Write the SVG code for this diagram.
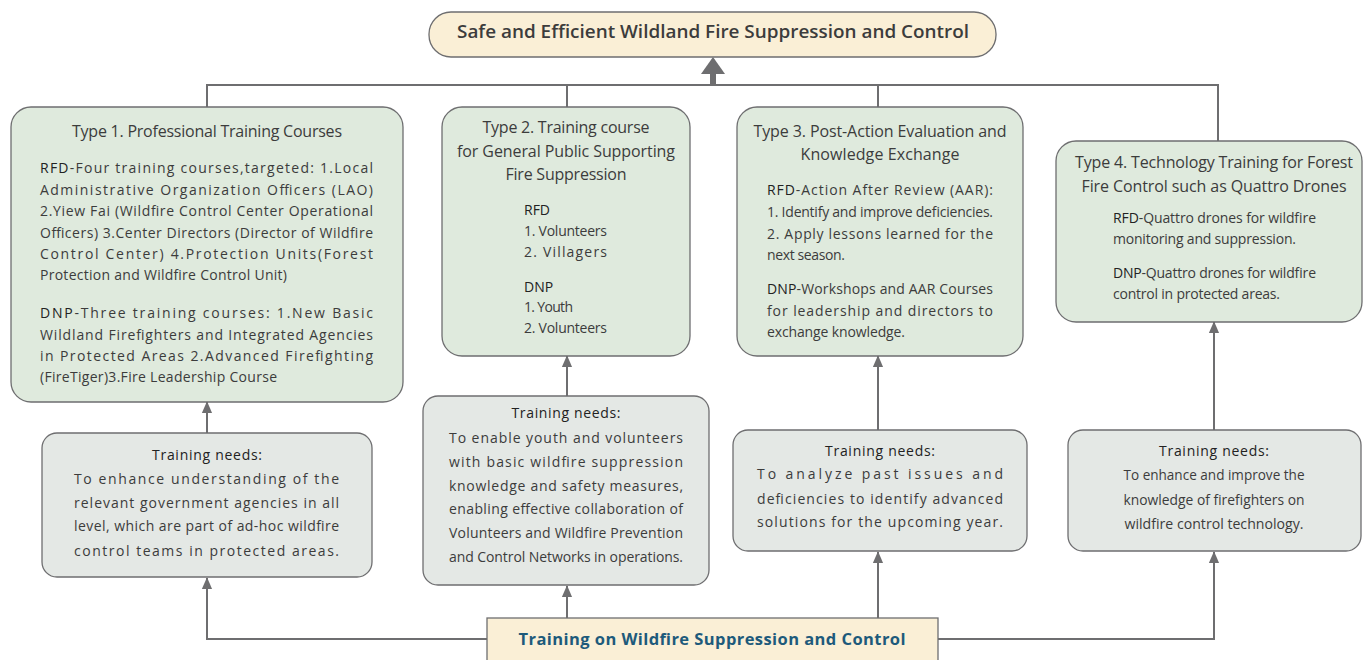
<svg xmlns="http://www.w3.org/2000/svg" width="1363" height="660" viewBox="0 0 1363 660">
<defs>
<style>
text{font-family:"Open Sans","Noto Sans",sans-serif;fill:#3c3c3c}
.ti{font-size:16px;text-anchor:middle}
.bd{font-size:14px}
.nd{font-size:14px;text-anchor:middle}
.k{fill:#222}
.gn{fill:#dfeadd;stroke:#6e6e70;stroke-width:1.3}
.gy{fill:#e4e8e5;stroke:#6e6e70;stroke-width:1.3}
.cr{fill:#faefd6;stroke:#6e6e70;stroke-width:1.3}
.ln{fill:none;stroke:#6e6e70;stroke-width:2}
</style>
<marker id="ah" markerUnits="userSpaceOnUse" markerWidth="12" markerHeight="14" refX="13" refY="6" orient="auto" viewBox="0 0 14 12">
<path d="M0,0 L14,6 L0,12 z" fill="#6e6e70"/>
</marker>
</defs>

<g id="connectors">
<path class="ln" d="M207,107 V85 H1218 V141"/>
<path class="ln" d="M567,85 V107"/>
<path class="ln" d="M878,85 V107"/>
<path d="M713,86 V72" stroke="#6e6e70" stroke-width="6" fill="none"/>
<path d="M701,74 L725,74 L713,57 z" fill="#6e6e70"/>
<path class="ln" d="M207,433 V402" marker-end="url(#ah)"/>
<path class="ln" d="M567,396 V356" marker-end="url(#ah)"/>
<path class="ln" d="M878,430 V356" marker-end="url(#ah)"/>
<path class="ln" d="M1214,430 V322" marker-end="url(#ah)"/>
<path class="ln" d="M487,639 H207 V578" marker-end="url(#ah)"/>
<path class="ln" d="M567,618 V586" marker-end="url(#ah)"/>
<path class="ln" d="M878,618 V552" marker-end="url(#ah)"/>
<path class="ln" d="M938,639 H1214 V552" marker-end="url(#ah)"/>
</g>

<g id="goal">
<rect class="cr" x="429" y="12" width="567" height="45" rx="22"/>
<text x="713" y="38" font-size="18" font-weight="600" text-anchor="middle" textLength="512" lengthAdjust="spacingAndGlyphs">Safe and Efficient Wildland Fire Suppression and Control</text>
</g>

<g id="type1">
<rect class="gn" x="11" y="107" width="392" height="295" rx="20"/>
<text class="ti" x="207" y="137" textLength="270">Type 1. Professional Training Courses</text>
<text class="bd" x="40" y="173" textLength="333"><tspan class="k">RFD</tspan>-Four training courses,targeted: 1.Local</text>
<text class="bd" x="40" y="195" textLength="333">Administrative Organization Officers (LAO)</text>
<text class="bd" x="40" y="216" textLength="333">2.Yiew Fai (Wildfire Control Center Operational</text>
<text class="bd" x="40" y="238" textLength="333">Officers) 3.Center Directors (Director of Wildfire</text>
<text class="bd" x="40" y="259" textLength="333">Control Center) 4.Protection Units(Forest</text>
<text class="bd" x="40" y="280" textLength="247">Protection and Wildfire Control Unit)</text>
<text class="bd" x="40" y="318" textLength="333"><tspan class="k">DNP</tspan>-Three training courses: 1.New Basic</text>
<text class="bd" x="40" y="340" textLength="333">Wildland Firefighters and Integrated Agencies</text>
<text class="bd" x="40" y="361" textLength="333">in Protected Areas 2.Advanced Firefighting</text>
<text class="bd" x="40" y="382" textLength="237">(FireTiger)3.Fire Leadership Course</text>
</g>

<g id="type2">
<rect class="gn" x="442" y="107" width="248" height="249" rx="20"/>
<text class="ti" x="566" y="133" textLength="167">Type 2. Training course</text>
<text class="ti" x="566" y="157" textLength="218">for General Public Supporting</text>
<text class="ti" x="566" y="180" textLength="121">Fire Suppression</text>
<text class="bd k" x="524" y="215">RFD</text>
<text class="bd" x="524" y="236" textLength="83">1. Volunteers</text>
<text class="bd" x="524" y="257" textLength="83">2.  Villagers</text>
<text class="bd k" x="524" y="292">DNP</text>
<text class="bd" x="524" y="312" textLength="49">1. Youth</text>
<text class="bd" x="524" y="333" textLength="83">2. Volunteers</text>
</g>

<g id="type3">
<rect class="gn" x="737" y="107" width="286" height="249" rx="20"/>
<text class="ti" x="880" y="137" textLength="253">Type 3. Post-Action Evaluation and</text>
<text class="ti" x="880" y="160" textLength="159">Knowledge Exchange</text>
<text class="bd" x="767" y="195" textLength="226"><tspan class="k">RFD</tspan>-Action After Review (AAR):</text>
<text class="bd" x="767" y="217" textLength="226">1. Identify and improve deficiencies.</text>
<text class="bd" x="767" y="239" textLength="226">2. Apply lessons learned for the</text>
<text class="bd" x="767" y="260" textLength="78">next season.</text>
<text class="bd" x="767" y="294" textLength="226"><tspan class="k">DNP</tspan>-Workshops and AAR Courses</text>
<text class="bd" x="767" y="316" textLength="226">for leadership and directors to</text>
<text class="bd" x="767" y="337" textLength="138">exchange knowledge.</text>
</g>

<g id="type4">
<rect class="gn" x="1056" y="141" width="306" height="181" rx="20"/>
<text class="ti" x="1214" y="168" textLength="278">Type 4. Technology Training for Forest</text>
<text class="ti" x="1214" y="192" textLength="265">Fire Control such as Quattro Drones</text>
<text class="bd" x="1113" y="223" textLength="203"><tspan class="k">RFD</tspan>-Quattro drones for wildfire</text>
<text class="bd" x="1113" y="244" textLength="183">monitoring and suppression.</text>
<text class="bd" x="1113" y="278" textLength="203"><tspan class="k">DNP</tspan>-Quattro drones for wildfire</text>
<text class="bd" x="1113" y="299" textLength="167">control in protected areas.</text>
</g>

<g id="needs1">
<rect class="gy" x="42" y="433" width="330" height="144" rx="15"/>
<text class="nd k" x="207" y="460" textLength="110">Training needs:</text>
<text class="bd" x="74" y="484" textLength="265">To enhance understanding of the</text>
<text class="bd" x="74" y="508" textLength="265">relevant government agencies in all</text>
<text class="bd" x="74" y="531" textLength="265">level, which are part of ad-hoc wildfire</text>
<text class="bd" x="74" y="556" textLength="265">control teams in protected areas.</text>
</g>

<g id="needs2">
<rect class="gy" x="423" y="396" width="286" height="189" rx="15"/>
<text class="nd k" x="566" y="418" textLength="109">Training needs:</text>
<text class="bd" x="449" y="443" textLength="234">To enable youth and volunteers</text>
<text class="bd" x="449" y="467" textLength="234">with basic wildfire suppression</text>
<text class="bd" x="449" y="491" textLength="234">knowledge and safety measures,</text>
<text class="bd" x="449" y="514" textLength="234">enabling effective collaboration of</text>
<text class="bd" x="449" y="538" textLength="234">Volunteers and Wildfire Prevention</text>
<text class="bd" x="449" y="562" textLength="234">and Control Networks in operations.</text>
</g>

<g id="needs3">
<rect class="gy" x="733" y="430" width="294" height="121" rx="15"/>
<text class="nd k" x="880" y="456" textLength="110">Training needs:</text>
<text class="bd" x="757" y="479" textLength="246">To analyze past issues and</text>
<text class="bd" x="757" y="504" textLength="246">deficiencies to identify advanced</text>
<text class="bd" x="757" y="527" textLength="246">solutions for the upcoming year.</text>
</g>

<g id="needs4">
<rect class="gy" x="1068" y="430" width="293" height="121" rx="15"/>
<text class="nd k" x="1214" y="456" textLength="110">Training needs:</text>
<text class="nd" x="1214" y="480" font-size="13" textLength="181" lengthAdjust="spacingAndGlyphs">To enhance and improve the</text>
<text class="nd" x="1214" y="505" font-size="13" textLength="181" lengthAdjust="spacingAndGlyphs">knowledge of firefighters on</text>
<text class="nd" x="1214" y="529" font-size="13" textLength="179" lengthAdjust="spacingAndGlyphs">wildfire control technology.</text>
</g>

<g id="training">
<rect class="cr" x="487" y="618" width="451" height="60"/>
<text x="712" y="645" font-size="16.5" font-weight="700" text-anchor="middle" style="fill:#1d5a7b" textLength="387">Training on Wildfire Suppression and Control</text>
</g>
</svg>
